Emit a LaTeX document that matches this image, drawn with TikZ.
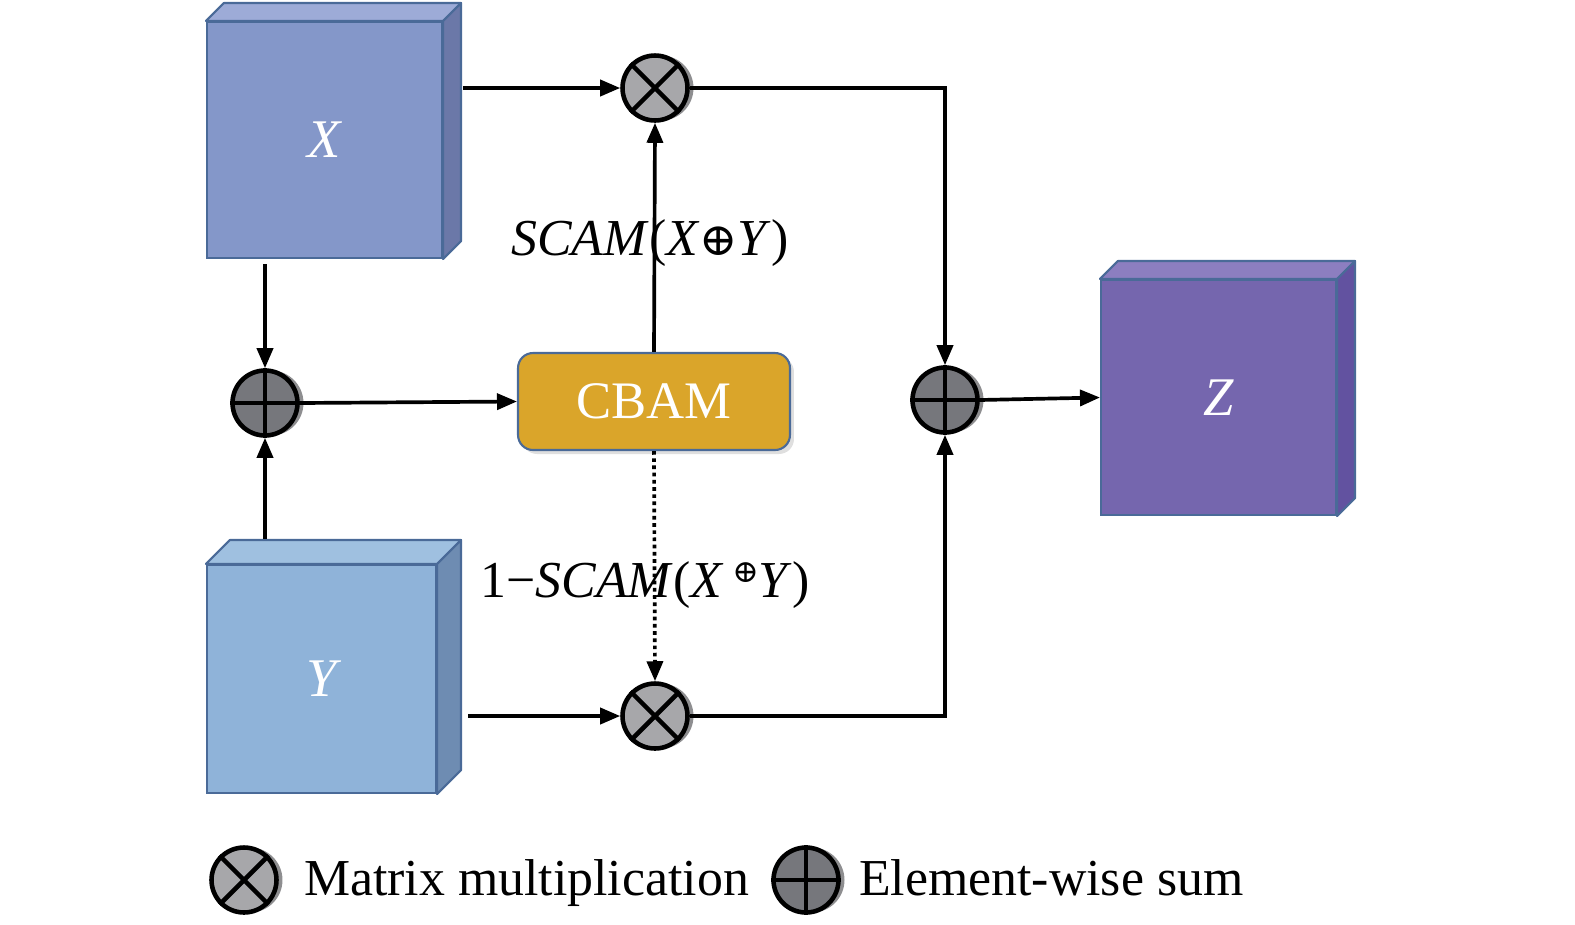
\documentclass[tikz,border=0pt]{standalone}
\usepackage{fontspec}
\setmainfont{Liberation Serif}
\newfontfamily\symfont{DejaVu Serif}
\usepackage{tikz}
\usetikzlibrary{arrows.meta, positioning, shadows, calc}
\definecolor{xfront}{HTML}{8497C9}
\definecolor{xtop}{HTML}{9DABD7}
\definecolor{xside}{HTML}{6B78A8}
\definecolor{yfront}{HTML}{8FB3D9}
\definecolor{ytop}{HTML}{9FC0E0}
\definecolor{yside}{HTML}{6E8CB2}
\definecolor{zfront}{HTML}{7566AE}
\definecolor{ztop}{HTML}{8C7EC0}
\definecolor{zside}{HTML}{6252A0}
\definecolor{cubeedge}{HTML}{4A6A98}
\definecolor{cbamfill}{HTML}{DAA52A}
\definecolor{mulgray}{HTML}{A7A7AA}
\definecolor{sumgray}{HTML}{76777C}
\definecolor{shadowgray}{HTML}{8E8E90}

\begin{document}
\begin{tikzpicture}[
    x=0.02cm, y=-0.02cm,
    cubeface/.style={rectangle, draw=cubeedge, line width=1.2pt, inner sep=0pt, text=white, font=\fontsize{31}{34}\selectfont\itshape},
    opnode/.style={circle, draw=black, line width=2.6pt, minimum size=1.3cm, inner sep=0pt, general shadow={fill=shadowgray, shadow xshift=0.12cm, shadow yshift=0cm}},
    mulop/.style={opnode, fill=mulgray},
    sumop/.style={opnode, fill=sumgray},
    arrow/.style={-{Triangle[length=0.4cm, width=0.32cm]}, line width=2.1pt},
    label/.style={font=\fontsize{29.5}{33}\selectfont, inner sep=0pt},
]
    \useasboundingbox (0,0) rectangle (1575,924);

    % feature cubes
    \node[cubeface, fill=xfront, minimum width=4.7cm, minimum height=4.72cm] (x) at (324.5,140) {X};
    \node[cubeface, fill=yfront, minimum width=4.58cm, minimum height=4.56cm] (y) at (321.5,679) {Y};
    \node[cubeface, fill=zfront, minimum width=4.7cm, minimum height=4.7cm] (z) at (1218.5,397.5) {Z};
    \foreach \n/\d/\tc/\sc in {x/18/xtop/xside, y/24/ytop/yside, z/18/ztop/zside} {
        \filldraw[fill=\tc, draw=cubeedge, line width=1.2pt, line join=round]
            (\n.north west) -- ++(\d,-\d) -- ($(\n.north east)+(\d,-\d)$) -- (\n.north east) -- cycle;
        \filldraw[fill=\sc, draw=cubeedge, line width=1.2pt, line join=round]
            (\n.north east) -- ++(\d,-\d) -- ($(\n.south east)+(\d,-\d)$) -- (\n.south east) -- cycle;
    }

    % attention block
    \node[rectangle, rounded corners=0.3cm, draw=cubeedge, line width=1.2pt, fill=cbamfill,
          minimum width=5.44cm, minimum height=1.94cm, text=white, font=\fontsize{30}{33}\selectfont,
          drop shadow={opacity=0.25, shadow xshift=0.08cm, shadow yshift=-0.08cm}] (cbam) at (654,401.5) {CBAM};

    % operators
    \node[mulop] (mt) at (655,88) {};
    \node[mulop] (mb) at (655,716) {};
    \node[sumop] (sl) at (265,403) {};
    \node[sumop] (sr) at (945,400) {};
    \node[mulop] (lm) at (244,880) {};
    \node[sumop] (ls) at (806,880) {};
    \foreach \n in {mt, mb, lm}
        \draw[line width=2.6pt] (\n.north east) -- (\n.south west) (\n.north west) -- (\n.south east);
    \foreach \n in {sl, sr, ls}
        \draw[line width=2.6pt] (\n.north) -- (\n.south) (\n.west) -- (\n.east);

    % connectors
    \draw[arrow] ([xshift=0.4cm]x.east |- mt.west) -- (mt.west);
    \draw[arrow] (mt.east) -| (sr.north);
    \draw[arrow] (cbam.north) -- (mt.south);
    \draw[arrow] ([yshift=-0.1cm]x.south -| sl) -- (sl.north);
    \draw[arrow] ([yshift=0.5cm]y.north -| sl) -- (sl.south);
    \draw[arrow] (sl.east) -- (cbam.west);
    \draw[arrow, dotted] (cbam.south) -- (mb.north);
    \draw[arrow] ([xshift=0.62cm]y.east |- mb.west) -- (mb.west);
    \draw[arrow] (mb.east) -| (sr.south);
    \draw[arrow] (sr.east) -- (z.west);

    % labels
    \node[label] (att) at (650,243) {\textit{SCAM}(\textit{X}{\symfont\fontsize{26}{28}\selectfont ⊕}\textit{Y})};
    \node[label] (inv) at (645,585) {1−\textit{SCAM}(\textit{X}\,\raisebox{0.28em}{\symfont\fontsize{18}{19}\selectfont ⊕}\textit{Y})};

    % legend
    \node[label, anchor=base west] (lmtext) at ([xshift=0.5cm, yshift=-0.3cm]lm.east) {Matrix multiplication};
    \node[label, anchor=base west] (lstext) at ([xshift=0.36cm, yshift=-0.3cm]ls.east) {Element-wise sum};
\end{tikzpicture}
\end{document}
